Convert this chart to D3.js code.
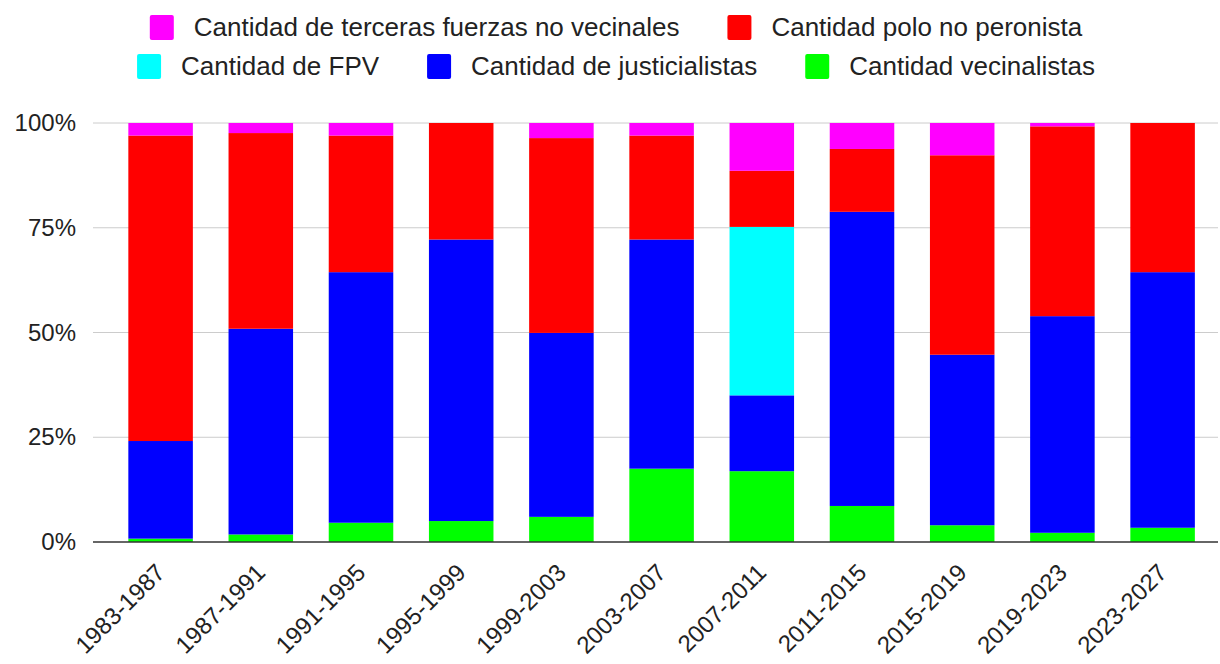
<!DOCTYPE html>
<html>
<head>
<meta charset="utf-8">
<script src="https://cdn.jsdelivr.net/npm/d3@7"></script>
<style>
  body { margin: 0; background: #fff; }
  text { font-family: "Liberation Sans", Arial, sans-serif; fill: #222; }
</style>
</head>
<body>
<svg id="chart"></svg>
<script>
// periods on the x axis
var periods = ["1983-1987", "1987-1991", "1991-1995", "1995-1999", "1999-2003",
  "2003-2007", "2007-2011", "2011-2015", "2015-2019", "2019-2023", "2023-2027"];

// shares (%), bottom to top
var vecinalistas = [0.8, 1.8, 4.6, 5.0, 6.0, 17.5, 16.9, 8.6, 4.0, 2.2, 3.4];
var justicialistas = [23.3, 49.1, 59.8, 67.2, 43.9, 54.7, 18.1, 70.2, 40.7, 51.7, 61.0];
var fpv = [0, 0, 0, 0, 0, 0, 40.2, 0, 0, 0, 0];
var poloNoPeronista = [72.9, 46.7, 32.6, 27.8, 46.5, 24.8, 13.4, 15.0, 47.6, 45.3, 35.6];
var terceras = [3.0, 2.4, 3.0, 0, 3.6, 3.0, 11.4, 6.2, 7.7, 0.8, 0];

var yTicks = [0, 0.25, 0.5, 0.75, 1];

var series = [
  { key: "vec", name: "Cantidad vecinalistas", values: vecinalistas, color: "#00ff00" },
  { key: "jus", name: "Cantidad de justicialistas", values: justicialistas, color: "#0000ff" },
  { key: "fpv", name: "Cantidad de FPV", values: fpv, color: "#00ffff" },
  { key: "pnp", name: "Cantidad polo no peronista", values: poloNoPeronista, color: "#ff0000" },
  { key: "ter", name: "Cantidad de terceras fuerzas no vecinales", values: terceras, color: "#ff00ff" }
];
// legend rows as in the picture
var legendRows = [["ter", "pnp"], ["fpv", "jus", "vec"]];

var width = 1220, height = 664;
var svg = d3.select("#chart").attr("width", width).attr("height", height);

var rows = periods.map(function (p, i) {
  var r = { period: p };
  series.forEach(function (s) { r[s.key] = s.values[i]; });
  return r;
});

var stack = d3.stack()
  .keys(series.map(function (s) { return s.key; }))
  .offset(d3.stackOffsetExpand);
var stacked = stack(rows);

var x = d3.scaleBand().domain(periods).range([110.5, 1212.7])
  .paddingInner(0.356).paddingOuter(0.178);
var y = d3.scaleLinear().domain([0, 1]).range([542, 123]);

// gridlines
svg.append("g").selectAll("line")
  .data(yTicks.filter(function (t) { return t > 0; }))
  .enter().append("line")
  .attr("x1", 93).attr("x2", 1218)
  .attr("y1", function (d) { return y(d); })
  .attr("y2", function (d) { return y(d); })
  .attr("stroke", "#cccccc").attr("stroke-width", 1);

// bars
var colorOf = {};
series.forEach(function (s) { colorOf[s.key] = s.color; });

svg.append("g").selectAll("g")
  .data(stacked).enter().append("g")
  .attr("fill", function (d) { return colorOf[d.key]; })
  .selectAll("rect")
  .data(function (d) { return d; })
  .enter().append("rect")
  .attr("x", function (d) { return x(d.data.period); })
  .attr("width", x.bandwidth())
  .attr("y", function (d) { return y(d[1]); })
  .attr("height", function (d) { return Math.max(0, y(d[0]) - y(d[1])); });

// baseline
svg.append("line")
  .attr("x1", 93).attr("x2", 1218)
  .attr("y1", y(0)).attr("y2", y(0))
  .attr("stroke", "#333").attr("stroke-width", 1.5);

// y axis labels
var yAxis = d3.axisLeft(y).tickValues(yTicks).tickSize(0).tickPadding(0)
  .tickFormat(d3.format(".0%"));
var yg = svg.append("g").attr("transform", "translate(76,0)").call(yAxis);
yg.select(".domain").remove();
yg.selectAll("text")
  .attr("font-size", "24px")
  .style("font-family", '"Liberation Sans", Arial, sans-serif')
  .attr("fill", "#222");

// x labels, rotated
svg.append("g").selectAll("text")
  .data(periods).enter().append("text")
  .attr("transform", function (d) {
    return "translate(" + (x(d) + x.bandwidth() / 2) + ",568) rotate(-45)";
  })
  .attr("text-anchor", "end")
  .attr("dy", "0.35em")
  .attr("font-size", "24px")
  .text(function (d) { return d; });

// legend
var byKey = {};
series.forEach(function (s) { byKey[s.key] = s; });
var rowY = [27, 66];
legendRows.forEach(function (keys, ri) {
  var g = svg.append("g");
  var cursor = 0;
  keys.forEach(function (k, i) {
    var s = byKey[k];
    var item = g.append("g").attr("transform", "translate(" + cursor + ",0)");
    item.append("rect")
      .attr("x", 0).attr("y", rowY[ri] - 12)
      .attr("width", 24).attr("height", 25)
      .attr("rx", 2)
      .attr("fill", s.color);
    var t = item.append("text")
      .attr("x", 44).attr("y", rowY[ri])
      .attr("dy", "0.35em")
      .attr("font-size", "26px")
      .text(s.name);
    cursor += 44 + t.node().getComputedTextLength() + 48;
  });
  var total = cursor - 48;
  g.attr("transform", "translate(" + (616 - total / 2) + ",0)");
});
</script>
</body>
</html>
